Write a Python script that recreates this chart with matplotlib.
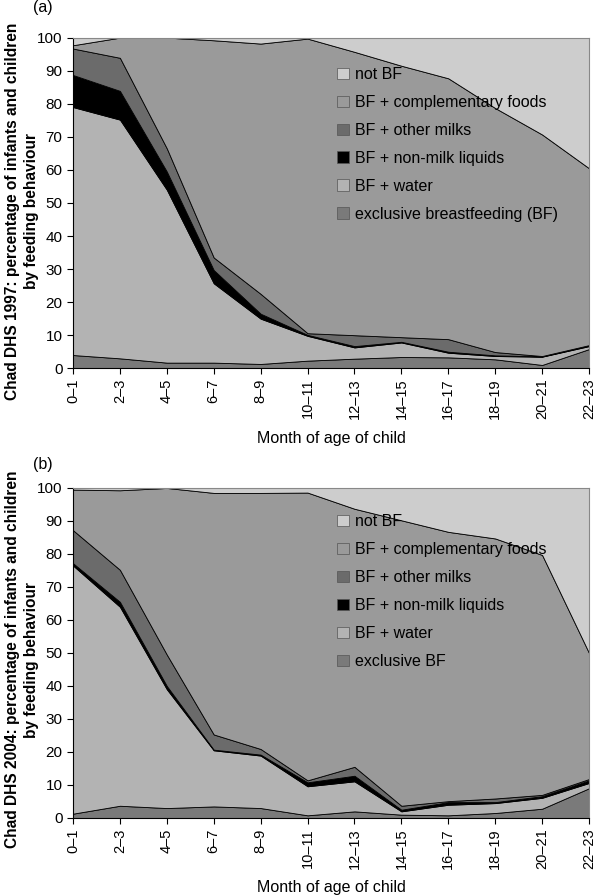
import numpy as np
import matplotlib.pyplot as plt
from matplotlib.patches import Patch

plt.rcParams['font.family'] = ['Liberation Sans', 'DejaVu Sans']

ages = ['0–1', '2–3', '4–5', '6–7', '8–9', '10–11', '12–13',
        '14–15', '16–17', '18–19', '20–21', '22–23']

# Chad DHS 1997 (percent of children, per feeding category)
excl_97 = [4.0, 3.0, 1.7, 1.7, 1.3, 2.3, 2.9, 3.4, 3.3, 2.7, 1.0, 5.8]
water_97 = [75.0, 72.2, 52.3, 24.0, 13.7, 7.5, 3.4, 4.4, 1.4, 1.0, 2.5, 0.9]
nonmilk_97 = [9.7, 8.7, 5.5, 4.0, 1.5, 0.3, 0.4, 0.2, 0.3, 0.2, 0.1, 0.2]
milks_97 = [8.0, 10.0, 7.0, 3.8, 6.0, 0.5, 3.3, 1.4, 3.8, 1.0, 0.1, 0.1]
comp_97 = [1.0, 6.1, 33.5, 65.7, 75.7, 89.1, 85.7, 82.1, 78.9, 73.8, 67.0, 53.5]
notbf_97 = [2.3, 0.0, 0.0, 0.8, 1.8, 0.3, 4.3, 8.5, 12.3, 21.3, 29.3, 39.5]

# Chad DHS 2004
excl_04 = [1.3, 3.7, 3.0, 3.5, 3.0, 0.8, 2.0, 1.0, 0.8, 1.5, 2.8, 9.0]
water_04 = [75.2, 60.3, 36.0, 17.0, 15.9, 8.8, 9.1, 1.0, 3.2, 3.0, 3.3, 1.6]
nonmilk_04 = [0.7, 1.5, 1.0, 0.2, 0.3, 1.2, 1.7, 0.5, 0.8, 0.3, 0.5, 0.8]
milks_04 = [10.0, 9.7, 9.5, 4.6, 1.7, 0.6, 2.7, 1.2, 0.3, 1.1, 0.4, 0.4]
comp_04 = [12.3, 24.1, 50.5, 73.2, 77.6, 87.2, 78.2, 86.5, 81.6, 78.8, 72.7, 38.2]
notbf_04 = [0.5, 0.7, 0.0, 1.5, 1.5, 1.4, 6.3, 9.8, 13.3, 15.3, 20.3, 50.0]

colors = ['#7a7a7a', '#b3b3b3', '#000000', '#6b6b6b', '#9a9a9a', '#cdcdcd']
labels_a = ['exclusive breastfeeding (BF)', 'BF + water', 'BF + non-milk liquids',
            'BF + other milks', 'BF + complementary foods', 'not BF']
labels_b = ['exclusive BF', 'BF + water', 'BF + non-milk liquids',
            'BF + other milks', 'BF + complementary foods', 'not BF']

fig = plt.figure(figsize=(6, 8.96), dpi=100)
ax1 = fig.add_axes([0.1217, 0.589, 0.86, 0.369])
ax2 = fig.add_axes([0.1217, 0.0871, 0.86, 0.3683])

x = np.arange(len(ages))
panels = [
    (ax1, [excl_97, water_97, nonmilk_97, milks_97, comp_97, notbf_97], labels_a,
     'Chad DHS 1997: percentage of infants and children\nby feeding behaviour', '(a)',
     0.476, 1.091, 0.931),
    (ax2, [excl_04, water_04, nonmilk_04, milks_04, comp_04, notbf_04], labels_b,
     'Chad DHS 2004: percentage of infants and children\nby feeding behaviour', '(b)',
     0.48, 1.07, 0.94),
]

for ax, series, labels, ylab, tag, ly, ty, legy in panels:
    ax.stackplot(x, *series, colors=colors, edgecolor='black', linewidth=0.6)
    ax.set_xlim(0, len(ages) - 1)
    ax.set_ylim(0, 100)
    ax.set_yticks(range(0, 101, 10))
    ax.set_xticks(x)
    ax.set_xticklabels(ages, rotation=90, fontsize=10.5)
    ax.tick_params(axis='y', labelsize=11, direction='out', length=4)
    ax.tick_params(axis='x', direction='out', length=4)
    for s in ['top', 'right']:
        ax.spines[s].set_color('#888888')
    ax.set_xlabel('Month of age of child', fontsize=11.5, labelpad=8)
    ax.set_ylabel(ylab, fontsize=11.2, fontweight='bold', linespacing=1.3)
    ax.yaxis.set_label_coords(-0.066, ly)
    ax.text(-0.078, ty, tag, transform=ax.transAxes, fontsize=11.5, va='center')

    handles = [Patch(facecolor=c, edgecolor='#555555', linewidth=0.5) for c in colors]
    ax.legend(handles[::-1], labels[::-1], loc='upper left', bbox_to_anchor=(0.5, legy),
              frameon=False, fontsize=11.5, labelspacing=0.81, handlelength=0.7,
              handleheight=0.7, handletextpad=0.4, borderaxespad=0)

fig.savefig('out.png', dpi=100)
